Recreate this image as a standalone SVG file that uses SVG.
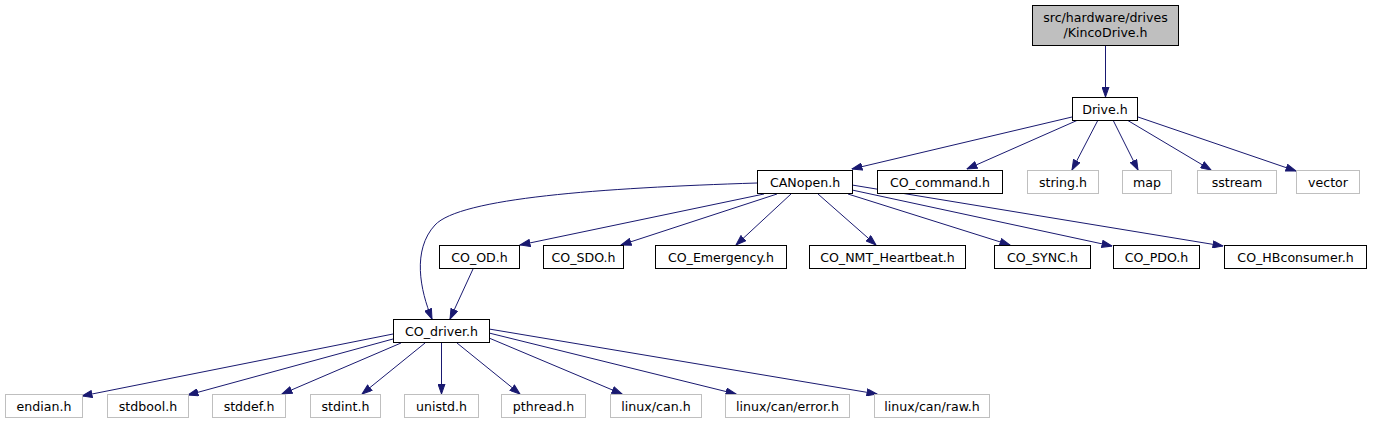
<svg xmlns="http://www.w3.org/2000/svg" width="1373" height="425" viewBox="0 0 1373 425">
<style>
text{font-family:"DejaVu Sans","Liberation Sans",sans-serif;font-size:12.6px;text-anchor:middle;fill:#000}
rect{fill:#fff;stroke-width:1}
.b rect{stroke:#000}
.g rect{stroke:#bfbfbf}
.r rect{fill:#bfbfbf;stroke:#000}
#edges path{fill:none;stroke:#191970;stroke-width:1;marker-end:url(#ah)}
</style>
<defs>
<marker id="ah" markerUnits="userSpaceOnUse" markerWidth="11" markerHeight="8" viewBox="0 0 11 8" refX="10.5" refY="4" orient="auto">
<path d="M0.5,0.5 L10.5,4 L0.5,7.5 Z" fill="#191970" stroke="#191970" stroke-width="1"/>
</marker>
</defs>
<rect x="0" y="0" width="1373" height="425" style="fill:#fff;stroke:none"/>
<g id="edges">
<path d="M1105.5,46 L1105.5,97"/>
<path d="M1072,117 L852,169"/>
<path d="M1078,120 L967,169"/>
<path d="M1098,120 L1072,170"/>
<path d="M1113,120 L1138,170"/>
<path d="M1127,120 L1211,170"/>
<path d="M1138,117 L1296,171"/>
<path d="M757,183 C600,188 460,198 435,225 C412,250 420,290 432,319"/>
<path d="M764,194 L520,245"/>
<path d="M777,194 L621,245"/>
<path d="M791,194 L736,245"/>
<path d="M818,194 L876,245"/>
<path d="M848,194 L1010,245"/>
<path d="M852,190 L1112,246"/>
<path d="M852,185 L1223,246"/>
<path d="M473,269 L450,319"/>
<path d="M393,334 L82,396"/>
<path d="M393,339 L188,395"/>
<path d="M401,343 L282,394"/>
<path d="M425,343 L362,394"/>
<path d="M441.5,343 L441.5,394"/>
<path d="M457,343 L520,394"/>
<path d="M489,338 L622,394"/>
<path d="M489,333 L736,394"/>
<path d="M489,329 L877,394"/>
</g>
<g id="n_kinco" class="r"><rect x="1032.5" y="5.5" width="146" height="40"/><text x="1105.5" y="21.5">src/hardware/drives</text><text x="1105.5" y="37">/KincoDrive.h</text></g>
<g id="n_drive" class="b"><rect x="1072.5" y="97.5" width="65" height="23"/><text x="1105" y="113.5">Drive.h</text></g>
<g id="n_canopen" class="b"><rect x="757.5" y="170.5" width="95" height="23"/><text x="805" y="186.5">CANopen.h</text></g>
<g id="n_cocommand" class="b"><rect x="877.5" y="170.5" width="125" height="23"/><text x="940" y="186.5">CO_command.h</text></g>
<g id="n_string" class="g"><rect x="1027.5" y="170.5" width="71" height="23"/><text x="1063" y="186.5">string.h</text></g>
<g id="n_map" class="g"><rect x="1122.5" y="170.5" width="49" height="23"/><text x="1147" y="186.5">map</text></g>
<g id="n_sstream" class="g"><rect x="1197.5" y="170.5" width="79" height="23"/><text x="1237" y="186.5">sstream</text></g>
<g id="n_vector" class="g"><rect x="1296.5" y="170.5" width="63" height="23"/><text x="1328" y="186.5">vector</text></g>
<g id="n_cood" class="b"><rect x="439.5" y="245.5" width="80" height="23"/><text x="479.5" y="261.5">CO_OD.h</text></g>
<g id="n_cosdo" class="b"><rect x="543.5" y="245.5" width="80" height="23"/><text x="583.5" y="261.5">CO_SDO.h</text></g>
<g id="n_coemergency" class="b"><rect x="655.5" y="245.5" width="131" height="23"/><text x="721" y="261.5">CO_Emergency.h</text></g>
<g id="n_conmt" class="b"><rect x="809.5" y="245.5" width="156" height="23"/><text x="887.5" y="261.5">CO_NMT_Heartbeat.h</text></g>
<g id="n_cosync" class="b"><rect x="994.5" y="245.5" width="96" height="23"/><text x="1042.5" y="261.5">CO_SYNC.h</text></g>
<g id="n_copdo" class="b"><rect x="1113.5" y="245.5" width="86" height="23"/><text x="1156.5" y="261.5">CO_PDO.h</text></g>
<g id="n_cohb" class="b"><rect x="1224.5" y="245.5" width="142" height="23"/><text x="1295.5" y="261.5">CO_HBconsumer.h</text></g>
<g id="n_codriver" class="b"><rect x="393.5" y="319.5" width="96" height="23"/><text x="441.5" y="335.5">CO_driver.h</text></g>
<g id="n_endian" class="g"><rect x="5.5" y="394.5" width="77" height="23"/><text x="44" y="410.5">endian.h</text></g>
<g id="n_stdbool" class="g"><rect x="107.5" y="394.5" width="81" height="23"/><text x="148" y="410.5">stdbool.h</text></g>
<g id="n_stddef" class="g"><rect x="212.5" y="394.5" width="73" height="23"/><text x="249" y="410.5">stddef.h</text></g>
<g id="n_stdint" class="g"><rect x="310.5" y="394.5" width="70" height="23"/><text x="345.5" y="410.5">stdint.h</text></g>
<g id="n_unistd" class="g"><rect x="404.5" y="394.5" width="74" height="23"/><text x="441.5" y="410.5">unistd.h</text></g>
<g id="n_pthread" class="g"><rect x="501.5" y="394.5" width="84" height="23"/><text x="543.5" y="410.5">pthread.h</text></g>
<g id="n_linuxcan" class="g"><rect x="610.5" y="394.5" width="91" height="23"/><text x="656" y="410.5">linux/can.h</text></g>
<g id="n_linuxcanerror" class="g"><rect x="725.5" y="394.5" width="124" height="23"/><text x="787.5" y="410.5">linux/can/error.h</text></g>
<g id="n_linuxcanraw" class="g"><rect x="874.5" y="394.5" width="115" height="23"/><text x="932" y="410.5">linux/can/raw.h</text></g>
</svg>
